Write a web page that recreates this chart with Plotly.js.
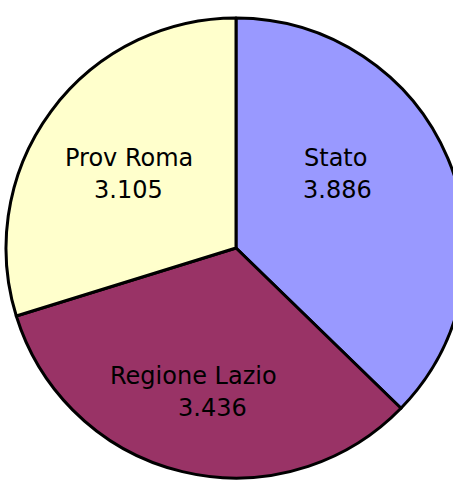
<!DOCTYPE html>
<html><head><meta charset="utf-8">
<script src="https://cdn.plot.ly/plotly-3.0.1.min.js"></script>
<style>html,body{margin:0;padding:0;overflow:hidden;background:#fff}</style>
</head><body><div id="chart"></div>
<script>
const labels = ["Stato", "Regione Lazio", "Prov Roma"];
const values = [3886, 3436, 3105];
const colors = ["#9999FF", "#993366", "#FFFFCC"];

// layout placement of the text (pixel positions of label and value centres)
const labelPos = [[335, 158], [193, 376], [129, 158]];
const valuePos = [[337, 190], [212, 408], [128, 190]];

const W = 470, H = 485, M = {l: 6, r: 4, t: 18, b: 7};
const pw = W - M.l - M.r, ph = H - M.t - M.b;
const px = x => (x - M.l) / pw;
const py = y => 1 - (y - M.t) / ph;
const fmt = v => v.toLocaleString('de-DE');

const font = {family: "DejaVu Sans", size: 24, color: "#000"};
const annotations = [];
labels.forEach((lab, i) => {
  annotations.push({xref: 'paper', yref: 'paper', x: px(labelPos[i][0]), y: py(labelPos[i][1]),
    text: lab, showarrow: false, font: font, xanchor: 'center', yanchor: 'middle'});
  annotations.push({xref: 'paper', yref: 'paper', x: px(valuePos[i][0]), y: py(valuePos[i][1]),
    text: fmt(values[i]), showarrow: false, font: font, xanchor: 'center', yanchor: 'middle'});
});

Plotly.newPlot('chart', [{
  type: 'pie', labels: labels, values: values, sort: false, direction: 'clockwise', rotation: 0,
  marker: {colors: colors, line: {color: '#000', width: 3}},
  textinfo: 'none', hoverinfo: 'label+value', showlegend: false
}], {
  width: W, height: H, margin: M, showlegend: false,
  paper_bgcolor: '#fff', annotations: annotations
}, {displayModeBar: false, staticPlot: true});
</script></body></html>
